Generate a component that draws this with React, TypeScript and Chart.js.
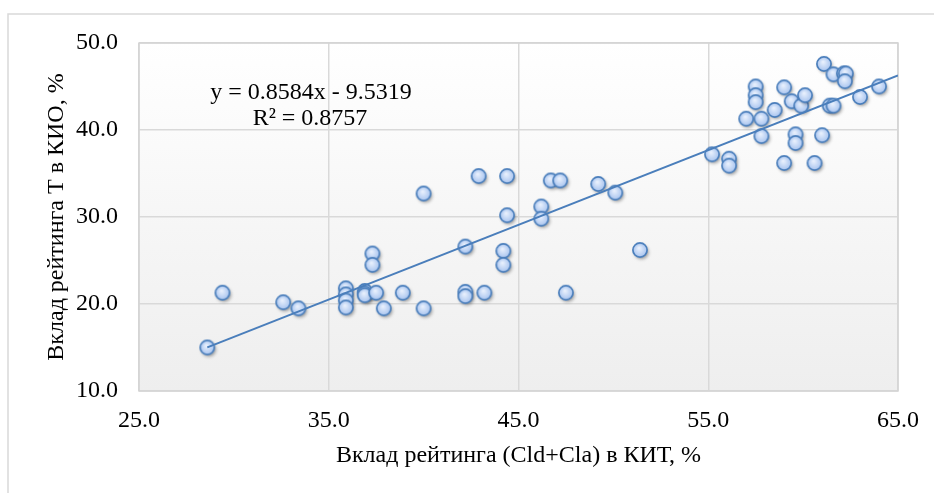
import React, { useEffect, useRef } from "react";
import { Chart, registerables } from "chart.js";

Chart.register(...registerables);

// ---- data ----
const xValues = [
  28.6, 29.4, 32.6, 33.4, 35.9, 35.9, 35.9, 35.9, 36.9, 36.9, 36.9, 37.3, 37.3,
  37.5, 37.9, 38.9, 40.0, 40.0, 42.2, 42.2, 42.2, 42.9, 43.2, 44.2, 44.2, 44.4,
  44.4, 46.2, 46.2, 46.7, 47.2, 47.5, 49.2, 50.1, 51.4, 55.2, 56.1, 56.1, 57.0,
  57.5, 57.5, 57.5, 57.8, 57.8, 58.5, 59.0, 59.0, 59.4, 59.6, 59.6, 59.9, 60.1,
  60.6, 61.1, 61.0, 61.4, 61.6, 61.6, 62.15, 62.25, 62.2, 63.0, 64.0,
];
const yValues = [
  15.0, 21.3, 20.2, 19.5, 21.8, 21.1, 20.4, 19.6, 21.5, 21.2, 21.0, 25.8, 24.5,
  21.3, 19.5, 21.3, 19.5, 32.7, 26.6, 21.4, 20.9, 34.7, 21.3, 26.1, 24.5, 34.7,
  30.2, 31.2, 29.8, 34.2, 34.2, 21.3, 33.8, 32.8, 26.2, 37.2, 36.7, 35.9, 41.3,
  45.0, 44.0, 43.2, 41.3, 39.3, 42.3, 44.9, 36.2, 43.3, 39.5, 38.5, 42.8, 44.0,
  36.2, 47.6, 39.4, 42.8, 42.8, 46.4, 46.5, 46.5, 45.6, 43.8, 45.0,
];
const xTicks = [25, 35, 45, 55, 65];
const yTicks = [10, 20, 30, 40, 50];
const trendSlope = 0.8584;
const trendIntercept = -9.5319;
const trendEndX = 65;
const equationText = "y = 0.8584x - 9.5319";
const r2Text = "R² = 0.8757";
const xTitle = "Вклад рейтинга (Cld+Cla) в КИТ, %";
const yTitle = "Вклад рейтинга Т в КИО, %";

const FONT = "'Liberation Serif', 'Times New Roman', serif";
const FS = 24;

function makeMarker(): HTMLCanvasElement {
  const c = document.createElement("canvas");
  c.width = 28;
  c.height = 28;
  const g = c.getContext("2d")!;
  const cx = 14, cy = 14, r = 7.1;
  g.save();
  g.shadowColor = "rgba(0,0,0,0.38)";
  g.shadowBlur = 3.5;
  g.shadowOffsetX = 1.5;
  g.shadowOffsetY = 2;
  g.beginPath();
  g.arc(cx, cy, r, 0, Math.PI * 2);
  g.fillStyle = "#b9d0f3";
  g.fill();
  g.restore();
  const grad = g.createRadialGradient(cx - 1, cy - 2, 0.5, cx, cy, r);
  grad.addColorStop(0, "#e8f0fd");
  grad.addColorStop(1, "#a8c4ef");
  g.beginPath();
  g.arc(cx, cy, r, 0, Math.PI * 2);
  g.fillStyle = grad;
  g.fill();
  g.lineWidth = 1.7;
  g.strokeStyle = "#4a7ebb";
  g.stroke();
  return c;
}

const decor = {
  id: "decor",
  beforeDraw(chart: any) {
    const { ctx, chartArea: a } = chart;
    ctx.save();
    ctx.strokeStyle = "#d9d9d9";
    ctx.lineWidth = 1.5;
    ctx.beginPath();
    ctx.moveTo(8, chart.height + 2);
    ctx.lineTo(8, 14);
    ctx.lineTo(chart.width + 2, 14);
    ctx.stroke();
    const g = ctx.createLinearGradient(0, a.top, 0, a.bottom);
    g.addColorStop(0, "#ffffff");
    g.addColorStop(1, "#eeeeee");
    ctx.fillStyle = g;
    ctx.fillRect(a.left, a.top, a.right - a.left, a.bottom - a.top);
    ctx.restore();
  },
  beforeDatasetsDraw(chart: any) {
    const { ctx, chartArea: a } = chart;
    ctx.save();
    ctx.strokeStyle = "#d4d4d4";
    ctx.lineWidth = 1.5;
    ctx.strokeRect(a.left, a.top, a.right - a.left, a.bottom - a.top);
    ctx.restore();
  },
  afterDraw(chart: any) {
    const { ctx, chartArea: a } = chart;
    ctx.save();
    ctx.font = `${FS}px ${FONT}`;
    ctx.fillStyle = "#000000";
    ctx.textAlign = "center";
    ctx.textBaseline = "middle";
    ctx.fillText(equationText, a.left + 172, a.top + 50);
    ctx.fillText(r2Text, a.left + 171, a.top + 76);
    ctx.restore();
  },
};

export default function App() {
  const ref = useRef<HTMLCanvasElement | null>(null);
  useEffect(() => {
    if (!ref.current) return;
    const marker = makeMarker();
    const points = xValues.map((x, i) => ({ x, y: yValues[i] }));
    const minX = Math.min(...xValues);
    const trend = [
      { x: minX, y: trendSlope * minX + trendIntercept },
      { x: trendEndX, y: trendSlope * trendEndX + trendIntercept },
    ];
    const chart = new Chart(ref.current, {
      type: "scatter",
      data: {
        datasets: [
          {
            type: "line",
            data: trend,
            borderColor: "#4a7ebb",
            borderWidth: 2,
            pointRadius: 0,
            fill: false,
            order: 0,
          } as any,
          {
            data: points,
            pointStyle: marker as any,
            pointRadius: 7,
            order: 1,
          },
        ],
      },
      options: {
        animation: false,
        responsive: false,
        devicePixelRatio: 1,
        layout: { padding: { top: 43, right: 36, left: 0, bottom: 0 } },
        plugins: { legend: { display: false }, tooltip: { enabled: false } },
        scales: {
          x: {
            type: "linear",
            min: 25,
            max: 65,
            afterBuildTicks: (s: any) => {
              s.ticks = xTicks.map((v) => ({ value: v }));
            },
            afterFit: (s: any) => {
              s.height = 102;
            },
            ticks: {
              padding: 15,
              color: "#000",
              font: { family: FONT, size: FS },
              callback: (v: any) => Number(v).toFixed(1),
              maxRotation: 0,
            },
            grid: { color: "#d9d9d9", lineWidth: 1.5, drawTicks: false },
            border: { display: false },
            title: {
              display: true,
              text: xTitle,
              color: "#000",
              font: { family: FONT, size: FS },
              padding: { top: 0, bottom: 23 },
            },
          },
          y: {
            type: "linear",
            min: 10,
            max: 50,
            afterBuildTicks: (s: any) => {
              s.ticks = yTicks.map((v) => ({ value: v }));
            },
            afterFit: (s: any) => {
              s.width = 139;
            },
            ticks: {
              padding: 21,
              color: "#000",
              font: { family: FONT, size: FS },
              callback: (v: any) => Number(v).toFixed(1),
            },
            grid: { color: "#d9d9d9", lineWidth: 1.5, drawTicks: false },
            border: { display: false },
            title: {
              display: true,
              text: yTitle,
              color: "#000",
              font: { family: FONT, size: FS },
              padding: { top: 42, bottom: 0 },
            },
          },
        },
      },
      plugins: [decor],
    });
    return () => chart.destroy();
  }, []);
  return (
    <canvas
      ref={ref}
      width={934}
      height={493}
      style={{ position: "absolute", left: 0, top: 0, width: 934, height: 493 }}
    />
  );
}
